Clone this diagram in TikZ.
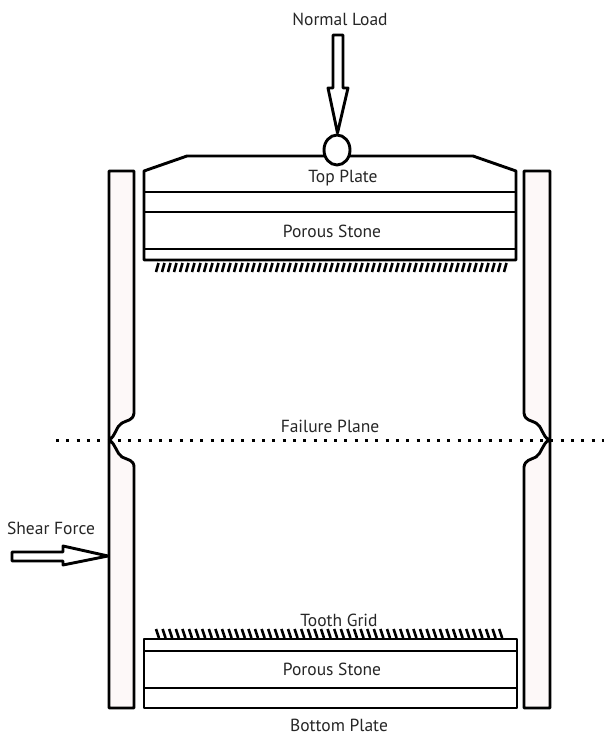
\documentclass[tikz,border=0pt]{standalone}
\usepackage{fontspec}
\setmainfont{PT Sans}
\usepackage{tikz}
\definecolor{wallpink}{HTML}{FDF8F8}
\begin{document}
\begin{tikzpicture}[x=1pt,y=-1pt,
        outline/.style={line width=2.9pt,line join=round},
        tooth/.style={line width=2.6pt},
        plabel/.style={font=\fontsize{17.5}{20}\selectfont,inner sep=0pt,text=black!85}]
                \useasboundingbox (0,0) rectangle (604,735);

                % Side walls
                \draw[outline,fill=wallpink] (109,171) -- (134,171) -- (134,413) .. controls (133,421) and (127,420) .. (122,423) .. controls (116,426) and (116,436) .. (109,440) .. controls (116,444) and (116,453) .. (122,457) .. controls (128,460) and (134,460) .. (134,467) -- (134,708) -- (109,708) -- cycle;
                \draw[outline,fill=wallpink] (550,171) -- (524,171) -- (524,413) .. controls (525,421) and (531,420) .. (536,423) .. controls (542,426) and (542,436) .. (549,440) .. controls (542,444) and (542,453) .. (536,457) .. controls (530,460) and (525,460) .. (524,467) -- (524,708) -- (550,708) -- cycle;

                % Failure plane
                \draw[line width=3pt,dash pattern=on 3pt off 7.3pt] (56,440) -- (604,440);

                % Top plate
                \draw[outline,fill=white] (144,171) -- (187,156) -- (473,156) -- (516,171) -- (516,260) -- (144,260) -- cycle;
                \draw[outline] (144,192) -- (516,192);
                \draw[outline] (144,212) -- (516,212);
                \draw[outline] (144,249) -- (516,249);

                % Bottom plate
                \draw[outline,fill=white] (144,639) rectangle (517,708);
                \draw[outline] (144,651) -- (517,651);
                \draw[outline] (144,688) -- (517,688);

                % Teeth
                \foreach \x in {0,...,58}
                    \draw[tooth] ({156+6*\x},272) -- ({158.5+6*\x},263);
                \foreach \x in {0,...,52}
                    \draw[tooth] ({156+6.6*\x},629) -- ({159+6.6*\x},638);

                % Normal load
                \draw[outline,fill=white] (333,35) -- (343,35) -- (343,88) -- (348,88) -- (337.5,133) -- (328,88) -- (333,88) -- cycle;
                \draw[outline,fill=white] (337,150) ellipse (13 and 15);

                % Shear force
                \draw[outline,fill=white] (12,552) -- (63,552) -- (63,546) -- (108,556) -- (63,565) -- (63,561) -- (12,561) -- cycle;

                % Labels
                \node[plabel] (normalload) at (340,19) {Normal Load};
                \node[plabel] (topplate) at (343,178) {Top Plate};
                \node[plabel] (upperstone) at (332,231) {Porous Stone};
                \node[plabel] (failureplane) at (330,426) {Failure Plane};
                \node[plabel] (shearforce) at (51,528) {Shear Force};
                \node[plabel] (toothgrid) at (339,620) {Tooth Grid};
                \node[plabel] (lowerstone) at (332,669) {Porous Stone};
                \node[plabel] (bottomplate) at (339,725) {Bottom Plate};
            \end{tikzpicture}
\end{document}
